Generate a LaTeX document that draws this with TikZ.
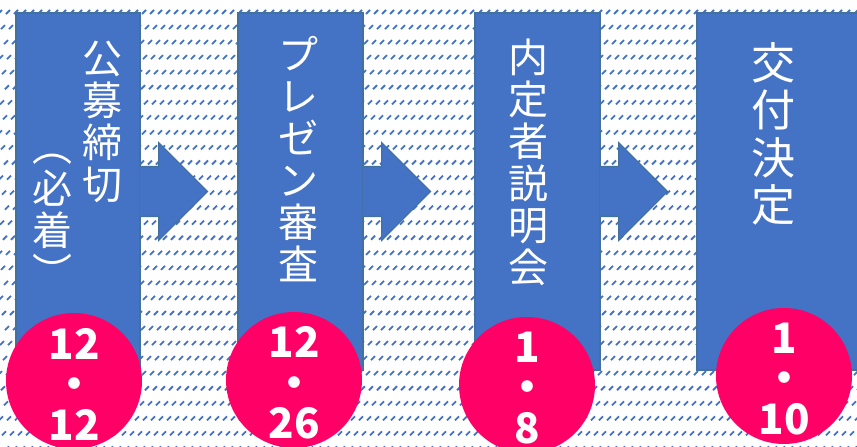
\documentclass[tikz,border=0pt]{standalone}
\usepackage{fontspec}
\newfontfamily\jpfont{Noto Sans CJK JP}
\usetikzlibrary{positioning}

\definecolor{stageblue}{HTML}{4472C4}
\definecolor{stageedge}{HTML}{41719C}
\definecolor{datepink}{HTML}{FF0066}

\tikzset{
  stage/.style={fill=stageblue, draw=stageedge, line width=1.2pt},
  hatch/.style={draw=stageblue, line width=1.8pt},
  vcol/.style={text=white, font=\jpfont\fontsize{40}{42}\selectfont, align=center, inner sep=0pt},
  badge/.style={circle, fill=datepink, minimum size=136pt, inner sep=0pt},
  datetext/.style={text=white, font=\jpfont\bfseries\fontsize{42}{40.5}\selectfont, align=center, inner sep=0pt}
}

\begin{document}
\begin{tikzpicture}[x=1pt, y=-1pt]
\useasboundingbox (0,0) rectangle (857,447);
\fill[white] (0,0) rectangle (857,447);

% background hatching
\foreach \r [evaluate=\r as \sh using {mod(\r*3,8)-2},
             evaluate=\r as \ry using {14+\r*15.05}] in {0,...,29}
  \draw[hatch] \foreach \c in {0,...,108} {(\c*8+\sh, \ry) -- ++(4,-4)};

% steps
\node[stage, minimum width=124pt, minimum height=357pt] (r1) at (78,191.5) {};
\node[stage, minimum width=125pt, minimum height=357pt] (r2) at (300.5,191.5) {};
\node[stage, minimum width=125pt, minimum height=357pt] (r3) at (537.5,191.5) {};
\node[stage, minimum width=165pt, minimum height=357pt] (r4) at (779.5,191.5) {};

\foreach \n in {r1,r2,r3}
  \filldraw[stage] ([xshift=-1pt,yshift=25pt]\n.east) -- ++(19,0) -- ++(0,-24)
    -- ++(49,49) -- ++(-49,49) -- ++(0,-24) -- ([xshift=-1pt,yshift=-25pt]\n.east);

% step names
\node[vcol, below=25pt of r1.north, xshift=24pt] (t1a) {\rule{0pt}{36pt}公\\募\\締\\切};
\node[vcol, below=113pt of r1.north, xshift=-26pt] (t1b) {\rule{0pt}{36pt}︵\\必\\着\\︶};
\node[vcol, below=21pt of r2.north, xshift=-2.5pt] (t2) {\rule{0pt}{36pt}プ\\レ\\ゼ\\ン\\審\\査};
\node[vcol, below=24pt of r3.north, xshift=-9.5pt] (t3) {\rule{0pt}{36pt}内\\定\\者\\説\\明\\会};
\node[vcol, font=\jpfont\fontsize{44}{47.5}\selectfont, below=26.5pt of r4.north, xshift=-6.5pt] (t4) {\rule{0pt}{40pt}交\\付\\決\\定};

% dates
\node[badge] (d1) at (74,381) {};
\node[badge] (d2) at (294,380) {};
\node[badge] (d3) at (527,385) {};
\node[badge] (d4) at (784,376) {};
\node[datetext, yshift=-3pt] (d1t) at (d1) {12\\・\\12};
\node[datetext, yshift=-3pt] (d2t) at (d2) {12\\・\\26};
\node[datetext, yshift=-3pt] (d3t) at (d3) {1\\・\\8};
\node[datetext, yshift=-3pt] (d4t) at (d4) {1\\・\\10};
\end{tikzpicture}
\end{document}
